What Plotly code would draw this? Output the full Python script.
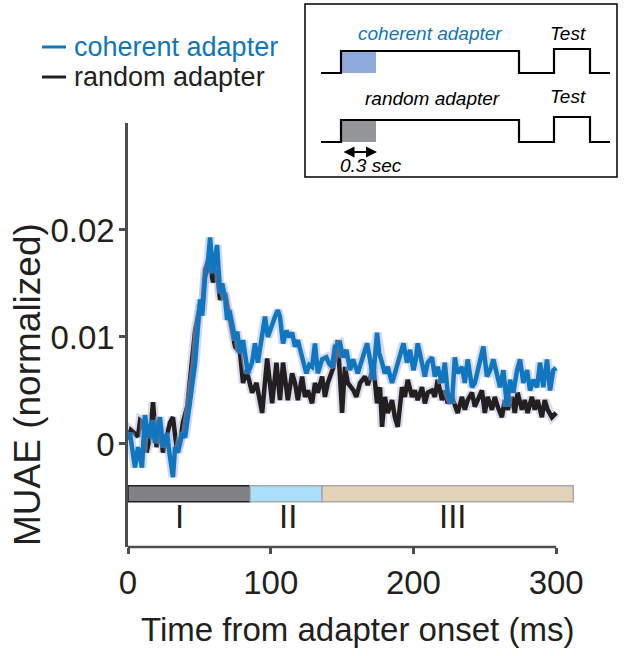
import numpy as np
import plotly.graph_objects as go

# ---------------- data (MUAE values read in units of 1e-3) ----------------
t_coherent = [0, 1.4, 4.9, 7, 9.8, 11.9, 14, 16.8, 18.9, 22.4, 24.5, 27.3, 29.4, 31.5, 33, 35, 37.8, 40, 42,
              44.8, 47, 50.5, 52, 54, 55.5, 57.5, 59.6, 62.4, 64.5, 66, 68, 69.4, 71, 72.9, 75, 76.5, 78.5,
              80.6, 82.5, 84, 86.9, 89, 91, 94, 96, 98, 101, 103, 105, 106.5, 108.6, 111, 113, 115, 117,
              119, 122, 125, 127, 129, 131, 133, 136, 139, 141, 143, 145, 148.6, 150.7, 153, 155.6, 157.7,
              161, 163, 165, 167.5, 169.6, 171.7, 174.5, 176, 178, 180, 182, 185, 187, 189, 191, 193, 195.5,
              197.6, 200, 201.5, 203, 206, 208, 210, 213, 215, 217, 220, 222, 224, 227, 229, 231, 234, 236,
              238, 241, 243, 245, 247, 249, 251.5, 253.7, 256, 258.6, 260.7, 263, 265.6, 267.7, 270, 272.6,
              274.7, 277, 279.6, 281.7, 284, 286.6, 288.7, 291, 293.6, 295.7, 298, 300]
muae_coherent_milli = [0.6, 1.0, -2.2, -0.3, -2.2, 2.7, 0.6, 2.2, 0.1, 2.5, -0.3, 1.0, -1.2, -3.1, -0.3, -0.8, 1.0, 0.6, 2.5,
                       5.0, 7.5, 13.5, 12.0, 15.6, 16.3, 19.3, 16.0, 18.6, 14.1, 15.0, 13.7, 11.6, 12.5, 11.3, 9.7, 10.5, 8.5,
                       9.7, 8.0, 6.6, 7.6, 9.4, 7.6, 10.6, 11.9, 10.0, 11.3, 11.9, 12.5, 11.9, 9.4, 10.6, 10.0, 10.4, 9.1,
                       9.7, 8.1, 6.6, 7.4, 7.2, 9.4, 6.6, 7.9, 8.1, 7.5, 7.2, 9.1, 9.4, 8.1, 8.8, 6.9, 7.9,
                       6.6, 7.5, 8.1, 9.4, 7.9, 6.0, 10.4, 8.5, 7.6, 6.6, 7.2, 5.7, 6.6, 7.6, 8.5, 9.4, 7.6,
                       8.8, 6.9, 7.8, 9.4, 7.6, 6.3, 7.6, 8.1, 6.3, 7.2, 5.7, 7.6, 4.8, 3.8, 8.1, 6.6, 7.2, 5.7,
                       7.9, 5.3, 5.7, 6.9, 8.0, 9.1, 6.3, 6.9, 7.9, 6.3, 5.3, 6.9, 3.5, 6.0, 4.8, 6.9,
                       7.9, 5.7, 6.9, 5.0, 6.0, 5.3, 7.6, 5.3, 7.9, 5.0, 6.9, 7.1]

t_random = [0, 2, 7, 8.5, 10.5, 13, 15.5, 17.5, 20, 22.4, 24.5, 27.3, 29.4, 31.5, 34.3, 36.4, 38.5, 41.5, 43.5,
            47, 50.5, 52, 54, 56.5, 59.6, 62, 64.5, 68, 71.5, 75, 78.5, 80.6, 83, 87, 90, 94, 97.5, 101, 104,
            106.5, 108.6, 112, 115, 117, 119, 122, 124, 126, 129, 131, 133, 136, 138, 140, 144, 147, 150, 152,
            154, 158, 160, 162.6, 166, 168, 172, 174.5, 176.6, 178, 180, 182, 185, 187, 189, 192, 194, 196, 199,
            201, 203, 206, 208, 210, 213, 215, 217, 220, 222, 224, 227, 229, 231, 234, 236, 238, 241, 243, 245,
            248, 250, 252, 255, 257, 259, 262, 264, 266, 269, 271, 273, 276, 278, 280, 283, 285, 287, 290, 292,
            294, 297, 300]
muae_random_milli = [0.4, 1.3, 0.7, 2.2, 2.0, -0.8, 0.7, 3.9, -0.3, 1.6, -0.8, 0.7, 2.0, 2.5, -0.6, 0.1, 2.0, 3.5, 6.0,
                     10.6, 13.0, 12.5, 16.3, 17.2, 15.1, 16.3, 13.5, 14.1, 11.6, 9.1, 8.5, 5.7, 6.9, 4.8, 5.7, 2.9, 8.0, 3.8, 7.6,
                     4.1, 7.6, 4.1, 6.6, 5.7, 4.1, 6.3, 4.4, 5.0, 3.8, 5.7, 4.8, 6.3, 4.4, 5.7, 7.2, 9.7, 2.9, 7.2,
                     5.7, 5.0, 4.4, 5.7, 6.3, 5.5, 7.2, 3.8, 5.3, 1.6, 4.4, 2.9, 4.1, 2.5, 1.6, 5.3, 4.4, 6.0, 4.4,
                     5.0, 4.1, 5.3, 3.8, 4.8, 5.0, 4.4, 6.0, 4.1, 5.0, 3.8, 4.4, 3.5, 2.9, 4.4, 3.2, 4.1, 4.8, 3.5, 4.1,
                     5.0, 2.9, 4.4, 3.2, 4.4, 3.5, 2.5, 4.1, 3.2, 4.4, 2.9, 4.8, 3.2, 4.1, 2.9, 4.4, 3.2, 4.1, 2.5, 4.1,
                     3.2, 2.5, 2.9]

muae_coherent = np.array(muae_coherent_milli) * 1e-3
muae_random = np.array(muae_random_milli) * 1e-3

series_names = ["coherent adapter", "random adapter"]

epoch_labels = ["I", "II", "III"]
epoch_start = [0, 85.5, 136]
epoch_end = [85.5, 136, 312]
epoch_label_x = [36, 112, 228]

x_tickvals = [0, 100, 200, 300]
y_tickvals = [0, 0.01, 0.02]
y_ticktext = ["0", "0.01", "0.02"]

# ---------------- styling ----------------
BLUE = "#0f76bf"
BLACK = "#231f20"
AXIS = "#4d4d4d"
FONT = "Liberation Sans, Arial, sans-serif"
W, H = 629, 656
ML, MR, MT, MB = 128, 51, 123, 109
PW, PH = W - ML - MR, H - MT - MB


def px(x):
    return (x - ML) / PW


def py(y):
    return (H - MB - y) / PH


fig = go.Figure()

# SEM halos
fig.add_trace(go.Scatter(x=t_random, y=muae_random, mode="lines",
                         line=dict(color="rgba(170,175,220,0.45)", width=9), hoverinfo="skip", showlegend=False))
fig.add_trace(go.Scatter(x=t_random, y=muae_random, mode="lines",
                         line=dict(color=BLACK, width=4.5), name=series_names[1], showlegend=False))
fig.add_trace(go.Scatter(x=t_coherent, y=muae_coherent, mode="lines",
                         line=dict(color="rgba(165,180,228,0.5)", width=9), hoverinfo="skip", showlegend=False))
fig.add_trace(go.Scatter(x=t_coherent, y=muae_coherent, mode="lines",
                         line=dict(color=BLUE, width=4.5), name=series_names[0], showlegend=False))

shapes = []
epoch_fill = ["#808285", "#a9dff8", "#e5d3b9"]
epoch_line = [BLACK, "#a7a9ac", "#a7a9ac"]
for i in range(3):
    shapes.append(dict(type="rect", xref="x", yref="y", x0=epoch_start[i], x1=epoch_end[i],
                       y0=-0.0054, y1=-0.0039, fillcolor=epoch_fill[i],
                       line=dict(color=epoch_line[i], width=1.5), layer="above"))

# x-axis baseline (0..300)
shapes.append(dict(type="line", xref="x", yref="paper", x0=0, x1=300, y0=0, y1=0,
                   line=dict(color=AXIS, width=2.5)))

# legend lines
shapes.append(dict(type="line", xref="paper", yref="paper", x0=px(42), x1=px(66), y0=py(47), y1=py(47),
                   line=dict(color=BLUE, width=3)))
shapes.append(dict(type="line", xref="paper", yref="paper", x0=px(42), x1=px(66), y0=py(77), y1=py(77),
                   line=dict(color=BLACK, width=3)))

# inset box
shapes.append(dict(type="rect", xref="paper", yref="paper", x0=px(305), x1=px(617), y0=py(4), y1=py(177),
                   line=dict(color="black", width=1.5), fillcolor="white"))
shapes.append(dict(type="rect", xref="paper", yref="paper", x0=px(342), x1=px(376), y0=py(52), y1=py(73),
                   line=dict(width=0), fillcolor="#8faadc"))
shapes.append(dict(type="rect", xref="paper", yref="paper", x0=px(342), x1=px(376), y0=py(121), y1=py(142),
                   line=dict(width=0), fillcolor="#939598"))


def path(pts):
    return "M " + " L ".join(f"{px(a):.5f},{py(b):.5f}" for a, b in pts)


top_pts = [(321, 73), (341, 73), (341, 51), (519, 51), (519, 73), (554, 73), (554, 49), (590, 49), (590, 73), (610, 73)]
bot_pts = [(321, 142), (341, 142), (341, 120), (519, 120), (519, 142), (554, 142), (554, 117), (590, 117), (590, 142), (610, 142)]
for pts in (top_pts, bot_pts):
    shapes.append(dict(type="path", xref="paper", yref="paper", path=path(pts),
                       line=dict(color="black", width=2.2)))

annotations = []
# legend text
annotations.append(dict(xref="paper", yref="paper", x=px(72), y=py(47), text=series_names[0], showarrow=False,
                        xanchor="left", yanchor="middle", font=dict(size=27, color=BLUE, family=FONT)))
annotations.append(dict(xref="paper", yref="paper", x=px(72), y=py(77), text=series_names[1], showarrow=False,
                        xanchor="left", yanchor="middle", font=dict(size=27, color=BLACK, family=FONT)))
# inset texts
annotations.append(dict(xref="paper", yref="paper", x=px(430), y=py(34), text="<i>coherent adapter</i>", showarrow=False,
                        xanchor="center", yanchor="middle", font=dict(size=19, color=BLUE, family=FONT)))
annotations.append(dict(xref="paper", yref="paper", x=px(568), y=py(34), text="<i>Test</i>", showarrow=False,
                        xanchor="center", yanchor="middle", font=dict(size=19, color="black", family=FONT)))
annotations.append(dict(xref="paper", yref="paper", x=px(432), y=py(98), text="<i>random adapter</i>", showarrow=False,
                        xanchor="center", yanchor="middle", font=dict(size=19, color="black", family=FONT)))
annotations.append(dict(xref="paper", yref="paper", x=px(568), y=py(97), text="<i>Test</i>", showarrow=False,
                        xanchor="center", yanchor="middle", font=dict(size=19, color="black", family=FONT)))
annotations.append(dict(xref="paper", yref="paper", x=px(338), y=py(165), text="<i>0.3 sec</i>", showarrow=False,
                        xanchor="left", yanchor="middle", font=dict(size=19, color="black", family=FONT)))
# double arrow
annotations.append(dict(xref="paper", yref="paper", x=px(377), y=py(152), ax=-35, ay=0, text="",
                        showarrow=True, arrowhead=2, startarrowhead=2, arrowside="end+start",
                        arrowsize=1, arrowwidth=2.2, arrowcolor="black"))
# epoch labels
for lab, xv in zip(epoch_labels, epoch_label_x):
    annotations.append(dict(xref="x", yref="y", x=xv, y=-0.0068, text=lab, showarrow=False,
                            xanchor="center", yanchor="middle", font=dict(size=33, color=BLACK, family=FONT)))
# axis titles
annotations.append(dict(xref="paper", yref="paper", x=px(357), y=py(629), text="Time from adapter onset (ms)",
                        showarrow=False, xanchor="center", yanchor="middle",
                        font=dict(size=33, color=BLACK, family=FONT)))
annotations.append(dict(xref="paper", yref="paper", x=px(27), y=py(385), text="MUAE (normalized)",
                        showarrow=False, xanchor="center", yanchor="middle", textangle=-90,
                        font=dict(size=37, color=BLACK, family=FONT)))

fig.update_layout(
    width=W, height=H,
    margin=dict(l=ML, r=MR, t=MT, b=MB),
    paper_bgcolor="white", plot_bgcolor="white",
    showlegend=False,
    shapes=shapes, annotations=annotations,
    font=dict(family=FONT, color=BLACK),
    xaxis=dict(range=[0, 315.3], tickvals=x_tickvals, ticks="outside", ticklen=6, tickwidth=2.5,
               tickcolor=AXIS, showline=False, showgrid=False, zeroline=False,
               tickfont=dict(size=33, color=BLACK, family=FONT), ticklabelstandoff=0),
    yaxis=dict(range=[-0.00963, 0.030], tickvals=y_tickvals, ticktext=y_ticktext, ticks="outside", ticklen=6,
               tickwidth=2.5, tickcolor=AXIS, showline=True, linecolor=AXIS, linewidth=2.5,
               showgrid=False, zeroline=False, tickfont=dict(size=33, color=BLACK, family=FONT),
               ticklabelstandoff=-2),
)

fig.write_html("out.html", config={"displayModeBar": False},
               post_script="document.body.style.margin='0';document.body.style.padding='0';")
